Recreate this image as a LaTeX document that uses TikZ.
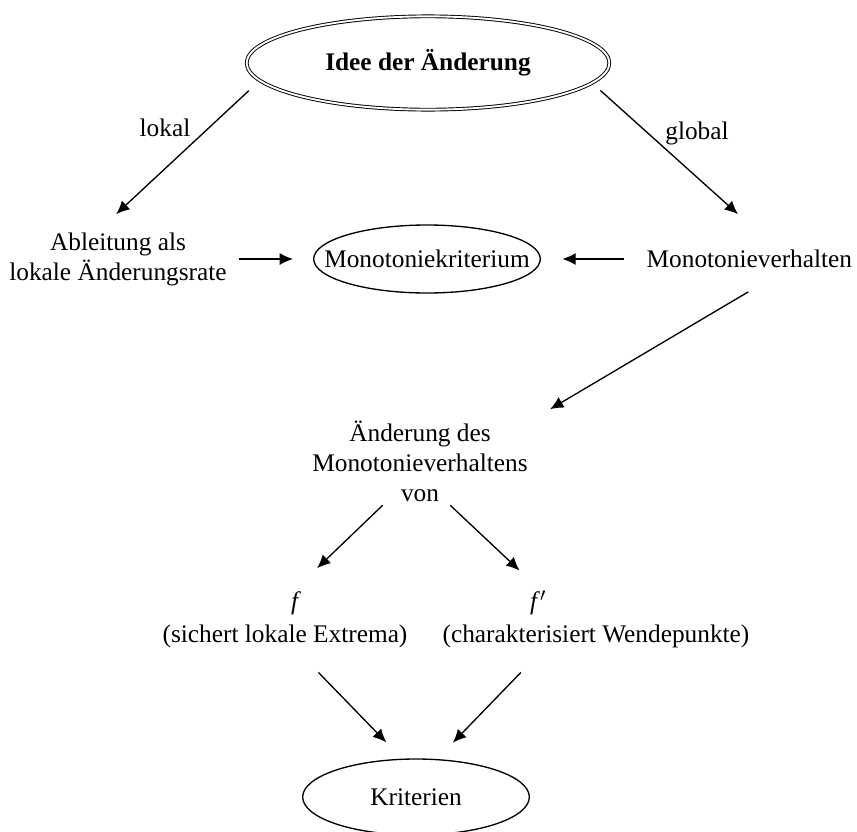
\documentclass[tikz,border=0pt]{standalone}
\usepackage{fontspec}
\setmainfont{Liberation Serif}
\usetikzlibrary{shapes.geometric}
\usetikzlibrary{arrows.meta}

\begin{document}
\begin{tikzpicture}[x=0.75pt, y=-0.75pt,
        every node/.style={font=\fontsize{19}{22.5}\selectfont, inner sep=2pt},
        oval/.style={draw, ellipse, line width=1pt, inner sep=0pt},
        arr/.style={-{Latex[length=10pt, width=9pt]}, line width=1pt}]
    \useasboundingbox (0,0) rectangle (857,832);

        % Central idea
        \node [oval, double, double distance=1.4pt, line width=0.7pt, minimum width=272pt, minimum height=70pt,
               label={center:\textbf{Idee der Änderung}}] (idee) at (428,63) {};
        \node (lokal) at (165,128) {lokal};
        \node (global) at (697,133) {global};

        % Middle row
        \node [align=center] (ableit) at (118,259) {Ableitung als\\lokale Änderungsrate};
        \node [oval, minimum width=170pt, minimum height=51pt, label={center:Monotoniekriterium}] (krit) at (427,259) {};
        \node [anchor=east] (monov) at (855,259) {Monotonieverhalten};

        % Change of monotonicity
        \node [align=center] (aend) at (420,461) {Änderung des\\Monotonieverhaltens\\von};
        \node (f) at (296,603) {\textit{f}};
        \node (fs) at (538,603) {\textit{f}$'$};
        \node (sicher) at (285,636) {(sichert lokale Extrema)};
        \node (charakt) at (596,636) {(charakterisiert Wendepunkte)};

        % Result
        \node [oval, minimum width=170pt, minimum height=57pt, label={center:Kriterien}] (krit2) at (416,797) {};

        % Arrows
        \foreach \from/\to/\sa/\sb in {idee.186/ableit.122/11pt/17pt, idee.353/monov.25/8pt/37pt,
                ableit.east/krit.west/7pt/15pt, monov.west/krit.east/15pt/16pt,
                monov.341/aend.20/31pt/17pt, aend.230/f.north/1pt/22pt, aend.304/fs.north/1pt/19pt,
                sicher.310/krit2.110/23pt/17pt, charakt.195/krit2.61/23pt/17pt} {
            \draw [arr, shorten <=\sa, shorten >=\sb] (\from) -- (\to);
        }
\end{tikzpicture}
\end{document}
